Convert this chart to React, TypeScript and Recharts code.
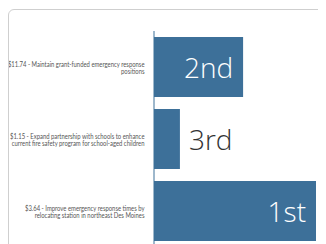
import { BarChart, Bar, XAxis, YAxis, LabelList } from "recharts";

const items = [
  "$11.74 - Maintain grant-funded emergency response|positions",
  "$1.15 - Expand partnership with schools to enhance|current fire safety program for school-aged children",
  "$3.64 - Improve emergency response times by|relocating station in northeast Des Moines",
];
const scores = [55, 16, 100];
const ranks = ["2nd", "3rd", "1st"];

const data = items.map((item, i) => ({ item, score: scores[i], rank: ranks[i] }));

const BLUE = "#3d7099";

function ItemTick(props: any) {
  const { x, y, payload } = props;
  const lines = String(payload.value).split("|");
  const lh = 7;
  const start = y - ((lines.length - 1) * lh) / 2;
  // squeeze horizontally to mimic the condensed face of the original
  return (
    <g transform={`translate(${x - 1.5},0) scale(0.82,1)`}>
      <text
        x={0}
        y={start}
        textAnchor="end"
        dominantBaseline="central"
        fill="#555"
        fontSize={7.2}
        fontFamily="Lato, sans-serif"
      >
        {lines.map((l, i) => (
          <tspan key={i} x={0} y={start + i * lh}>
            {l}
          </tspan>
        ))}
      </text>
    </g>
  );
}

function RankLabel(props: any) {
  const { x, y, width, height, value } = props;
  const inside = width > 60;
  return (
    <text
      x={inside ? x + width - 10 : x + width + 9}
      y={y + height / 2}
      textAnchor={inside ? "end" : "start"}
      dominantBaseline="central"
      fill={inside ? "#fff" : "#333"}
      fontSize={28}
      fontWeight={300}
      fontFamily="'Open Sans', sans-serif"
    >
      {value}
    </text>
  );
}

export default function App() {
  return (
    <div
      style={{
        marginTop: 1,
        width: 340,
        height: 260,
        border: "1px solid #cfcfcf",
        borderRadius: 6,
        background: "#fff",
      }}
    >
      <BarChart
        width={322}
        height={240}
        data={data}
        layout="vertical"
        margin={{ top: 21, right: 15, bottom: 3, left: 0 }}
      >
        <XAxis type="number" domain={[0, 100]} hide />
        <YAxis
          type="category"
          dataKey="item"
          width={145}
          axisLine={{ stroke: BLUE }}
          tickLine={false}
          tick={<ItemTick />}
          interval={0}
        />
        <Bar dataKey="score" fill={BLUE} barSize={60} isAnimationActive={false}>
          <LabelList dataKey="rank" content={<RankLabel />} />
        </Bar>
      </BarChart>
    </div>
  );
}
